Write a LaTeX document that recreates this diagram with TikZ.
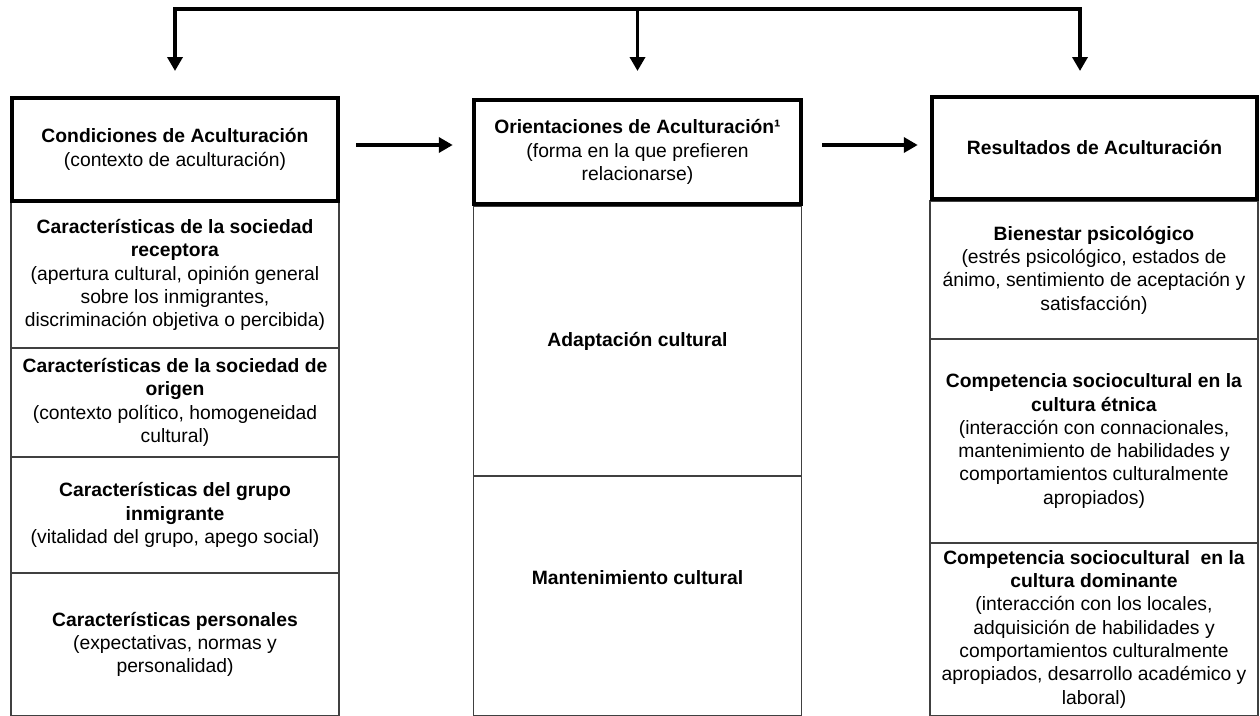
\documentclass[tikz,border=0pt]{standalone}
\usepackage{fontspec}
\setmainfont{Liberation Sans}
\usetikzlibrary{arrows.meta}

\begin{document}
\begin{tikzpicture}[x=1pt,y=-1pt,
		txt/.style={font=\fontsize{19.3}{23.3}\selectfont, align=center, inner sep=0pt, text=black},
		head/.style={txt, draw=black, line width=4.5pt, fill=white, minimum width=#1},
		sub/.style={txt, draw=black!75, line width=1.5pt, minimum width=328pt},
		arr/.style={line width=4pt, -{Triangle[length=14pt,width=15pt]}},
		fbarrow/.style={line width=3.5pt, -{Triangle[length=14pt,width=15pt]}}]
	
	\useasboundingbox (0,0) rectangle (1260,715);
	
	% columna izquierda
	\node[sub, minimum height=146pt] (recep) at (175,275) {\textbf{Características de la sociedad}\\\textbf{receptora}\\(apertura cultural, opinión general\\sobre los inmigrantes,\\discriminación objetiva o percibida)};
	\node[sub, minimum height=109pt] (origen) at (175,402.5) {\textbf{Características de la sociedad de}\\\textbf{origen}\\(contexto político, homogeneidad\\cultural)};
	\node[sub, minimum height=116pt] (grupo) at (175,515) {\textbf{Características del grupo}\\\textbf{inmigrante}\\(vitalidad del grupo, apego social)};
	\node[sub, minimum height=142.5pt] (pers) at (175,644.25) {\textbf{Características personales}\\(expectativas, normas y\\personalidad)};
	
	% columna central
	\node[sub, minimum height=270pt] (adapt) at (637.5,341) {\textbf{Adaptación cultural}};
	\node[sub, minimum height=239.5pt] (mant) at (637.5,595.75) {};
	\node[txt] (manttxt) at (637.5,578) {\textbf{Mantenimiento cultural}};
	
	% columna derecha
	\node[sub, minimum height=138pt] (bien) at (1094,270) {\textbf{Bienestar psicológico}\\(estrés psicológico, estados de\\ánimo, sentimiento de aceptación y\\satisfacción)};
	\node[sub, minimum height=204pt] (etnica) at (1094,441) {\textbf{Competencia sociocultural en la}\\\textbf{cultura étnica}\\(interacción con connacionales,\\mantenimiento de habilidades y\\comportamientos culturalmente\\apropiados)};
	\node[sub, minimum height=172.5pt] (domin) at (1094,629.25) {\textbf{Competencia sociocultural\ \ en la}\\\textbf{cultura dominante}\\(interacción con los locales,\\adquisición de habilidades y\\comportamientos culturalmente\\apropiados, desarrollo académico y\\laboral)};
	
	% cajas principales
	\node[head=326pt, minimum height=103pt] (cond) at (175,149.5) {\textbf{Condiciones de Aculturación}\\(contexto de aculturación)};
	\node[head=327pt, minimum height=104pt] (orient) at (637.5,152) {\textbf{Orientaciones de Aculturación¹}\\(forma en la que prefieren\\relacionarse)};
	\node[head=325pt, minimum height=102pt] (result) at (1094.5,148) {\textbf{Resultados de Aculturación}};
	
	\draw[arr, shorten <=16pt, shorten >=19pt] ([yshift=4.5pt]cond.east) -- ([yshift=4.5pt]cond.east -| orient.west);
	\draw[arr, shorten <=19pt, shorten >=12pt] ([yshift=7pt]orient.east) -- ([yshift=7pt]orient.east -| result.west);
	
	% retroalimentacion
	\coordinate (top) at (0,9);
	\coordinate (tip) at (0,71);
	\coordinate (resin) at ([xshift=-14.5pt]result.north);
	\draw[line width=4pt, line cap=rect] (cond.north |- top) -- (resin |- top);
	\foreach \n in {cond,orient,resin}
		\draw[fbarrow] (\n.north |- top) -- (\n.north |- tip);
\end{tikzpicture}
\end{document}
